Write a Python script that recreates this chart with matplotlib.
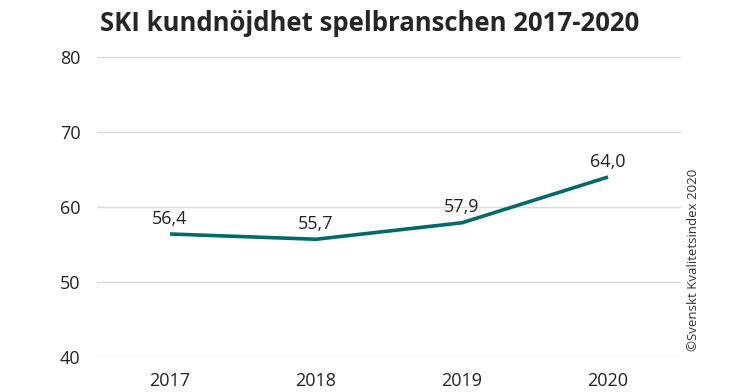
import matplotlib
matplotlib.use("Agg")
import matplotlib.pyplot as plt

years = ["2017", "2018", "2019", "2020"]
values = [56.4, 55.7, 57.9, 64.0]
value_labels = ["56,4", "55,7", "57,9", "64,0"]
yticks = [40, 50, 60, 70, 80]

plt.rcParams['font.family'] = ["Open Sans", 'DejaVu Sans']

fig = plt.figure(figsize=(7.46, 3.92), dpi=100)
ax = fig.add_axes([0.130, 0.0893, 0.783, 0.7653])
x = list(range(len(years)))
ax.plot(x, values, color="#006a6a", lw=2.6, solid_capstyle="butt")
for xi, v, lab in zip(x, values, value_labels):
    ax.annotate(lab, (xi, v), xytext=(0, 4.5), textcoords="offset points",
                ha="center", va="bottom", fontsize=13, color="#222222")
ax.set_xlim(-0.5, len(years) - 0.5)
ax.set_ylim(40, 80)
ax.set_yticks(yticks)
ax.set_xticks(x)
ax.set_xticklabels(years)
ax.grid(axis="y", color="#d9d9d9", lw=1)
ax.set_axisbelow(True)
for s in ax.spines.values():
    s.set_visible(False)
ax.tick_params(length=0, labelsize=13, colors="#222222")
ax.tick_params(axis="y", pad=12)
ax.tick_params(axis="x", pad=11)

fig.text(0.134, 0.94, "SKI kundnöjdhet spelbranschen 2017-2020", fontsize=18.5,
         fontweight="bold", color="#262626", ha="left", va="center")
fig.text(0.929, 0.337, "©Svenskt Kvalitetsindex 2020", rotation=90, fontsize=9.5,
         color="#333333", ha="center", va="center")

fig.savefig("out.png", dpi=100)
